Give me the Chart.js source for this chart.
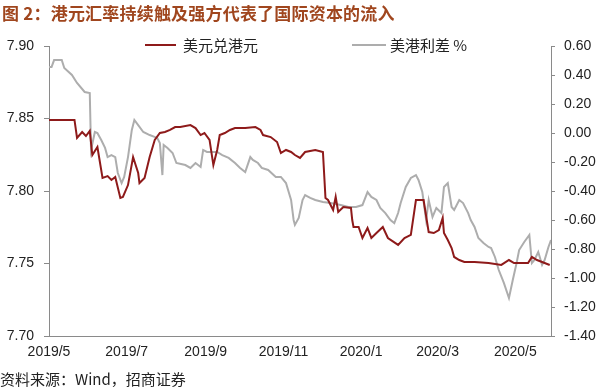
<!DOCTYPE html>
<html>
<head>
<meta charset="utf-8">
<script src="https://cdn.jsdelivr.net/npm/chart.js@4.4.1/dist/chart.umd.min.js"></script>
<style>
  html, body { margin: 0; padding: 0; background: #fff; }
  #wrap { position: relative; width: 600px; height: 387px; overflow: hidden; }
  #c { position: absolute; left: 0; top: 0; }
  #title { position: absolute; left: 2px; top: 2px; font: bold 17px "Noto Sans CJK SC", sans-serif; line-height: 22px; color: #A0461E; white-space: nowrap; letter-spacing: 0.2px; }
  #source { position: absolute; left: 0px; top: 370px; font: 15px "Noto Sans CJK SC", sans-serif; line-height: 17px; color: #222; white-space: nowrap; }
  .lg { position: absolute; top: 36px; font: 15px "Noto Sans CJK SC", sans-serif; line-height: 18px; color: #222; white-space: nowrap; }
  .lgline { position: absolute; height: 2px; top: 44px; }
</style>
</head>
<body>
<div id="wrap">
  <canvas id="c" width="600" height="387"></canvas>
  <div id="title">图 2：港元汇率持续触及强方代表了国际资本的流入</div>
  <div id="source">资料来源：Wind，招商证券</div>
</div>
<script>
// ---- data ----
const seriesNames = ['美元兑港元', '美港利差 %'];
const xTickLabels = ['2019/5', '2019/7', '2019/9', '2019/11', '2020/1', '2020/3', '2020/5'];
const leftTicks = [7.70, 7.75, 7.80, 7.85, 7.90];
const rightTicks = [-1.40, -1.20, -1.00, -0.80, -0.60, -0.40, -0.20, 0.00, 0.20, 0.40, 0.60];

const hkdDates = ['2019-05-01','2019-05-21','2019-05-23','2019-05-27','2019-05-30','2019-06-02','2019-06-04','2019-06-08','2019-06-12','2019-06-16','2019-06-19','2019-06-22','2019-06-26','2019-06-28','2019-07-02','2019-07-06','2019-07-10','2019-07-11','2019-07-15','2019-07-19','2019-07-23','2019-07-27','2019-07-31','2019-08-04','2019-08-08','2019-08-12','2019-08-20','2019-08-24','2019-08-28','2019-08-31','2019-09-04','2019-09-07','2019-09-10','2019-09-12','2019-09-16','2019-09-20','2019-09-24','2019-10-02','2019-10-10','2019-10-14','2019-10-16','2019-10-22','2019-10-27','2019-10-30','2019-11-03','2019-11-07','2019-11-10','2019-11-14','2019-11-18','2019-11-26','2019-12-02','2019-12-04','2019-12-06','2019-12-10','2019-12-12','2019-12-14','2019-12-18','2019-12-24','2019-12-25','2019-12-26','2019-12-30','2020-01-02','2020-01-06','2020-01-09','2020-01-13','2020-01-18','2020-01-22','2020-01-30','2020-02-04','2020-02-09','2020-02-13','2020-02-19','2020-02-23','2020-02-27','2020-03-02','2020-03-05','2020-03-06','2020-03-09','2020-03-12','2020-03-14','2020-03-18','2020-03-22','2020-03-30','2020-04-10','2020-04-20','2020-04-26','2020-04-30','2020-05-11','2020-05-14','2020-05-18','2020-05-22','2020-05-28'];
const hkdValues = [7.849,7.849,7.8366,7.8407,7.8379,7.8414,7.8248,7.8303,7.8090,7.8103,7.8076,7.8097,7.7952,7.7959,7.8041,7.8234,7.8124,7.8055,7.8090,7.8234,7.8352,7.8400,7.8407,7.8421,7.8441,7.8441,7.8455,7.8434,7.8386,7.8400,7.8352,7.8179,7.8283,7.8386,7.8400,7.8421,7.8434,7.8434,7.8441,7.8421,7.8386,7.8372,7.8338,7.8262,7.8283,7.8269,7.8248,7.8228,7.8269,7.8283,7.8269,7.7952,7.7938,7.7869,7.7959,7.7855,7.7890,7.7883,7.7800,7.7752,7.7752,7.7676,7.7745,7.7676,7.7710,7.7752,7.7676,7.7628,7.7676,7.7697,7.7938,7.7938,7.7717,7.7710,7.7731,7.7814,7.7710,7.7662,7.7607,7.7545,7.7524,7.7510,7.7510,7.7503,7.7490,7.7524,7.7503,7.7503,7.7545,7.7524,7.7510,7.7490];

const spreadDates = ['2019-05-01','2019-05-03','2019-05-05','2019-05-11','2019-05-13','2019-05-19','2019-05-23','2019-05-29','2019-06-02','2019-06-03','2019-06-06','2019-06-08','2019-06-11','2019-06-14','2019-06-16','2019-06-19','2019-06-22','2019-06-24','2019-06-27','2019-06-29','2019-07-02','2019-07-05','2019-07-07','2019-07-10','2019-07-14','2019-07-19','2019-07-25','2019-07-27','2019-07-29','2019-07-30','2019-08-02','2019-08-06','2019-08-09','2019-08-16','2019-08-20','2019-08-24','2019-08-28','2019-08-30','2019-09-02','2019-09-10','2019-09-14','2019-09-19','2019-09-24','2019-09-28','2019-10-02','2019-10-06','2019-10-08','2019-10-12','2019-10-15','2019-10-20','2019-10-26','2019-10-30','2019-11-03','2019-11-07','2019-11-09','2019-11-10','2019-11-13','2019-11-16','2019-11-18','2019-11-22','2019-11-26','2019-12-02','2019-12-08','2019-12-16','2019-12-22','2019-12-28','2020-01-02','2020-01-06','2020-01-09','2020-01-13','2020-01-16','2020-01-20','2020-01-24','2020-01-27','2020-01-30','2020-02-01','2020-02-05','2020-02-09','2020-02-13','2020-02-15','2020-02-18','2020-02-21','2020-02-23','2020-02-26','2020-02-29','2020-03-04','2020-03-06','2020-03-09','2020-03-12','2020-03-14','2020-03-18','2020-03-21','2020-03-25','2020-03-27','2020-03-30','2020-04-02','2020-04-06','2020-04-10','2020-04-12','2020-04-15','2020-04-18','2020-04-22','2020-04-26','2020-04-29','2020-05-02','2020-05-04','2020-05-08','2020-05-12','2020-05-14','2020-05-16','2020-05-19','2020-05-22','2020-05-24','2020-05-27','2020-05-29'];
const spreadValues = [0.455,0.455,0.503,0.503,0.448,0.400,0.345,0.283,0.276,-0.117,0.007,0.000,-0.048,-0.103,-0.166,-0.152,-0.166,-0.276,-0.345,-0.303,-0.166,0.021,0.090,0.055,0.007,-0.014,-0.034,-0.069,-0.290,-0.083,-0.103,-0.138,-0.207,-0.221,-0.241,-0.207,-0.234,-0.117,-0.131,-0.131,-0.152,-0.172,-0.207,-0.241,-0.269,-0.166,-0.186,-0.207,-0.241,-0.255,-0.303,-0.303,-0.345,-0.462,-0.600,-0.634,-0.586,-0.462,-0.428,-0.448,-0.462,-0.476,-0.483,-0.497,-0.510,-0.510,-0.497,-0.407,-0.441,-0.462,-0.517,-0.552,-0.600,-0.621,-0.552,-0.483,-0.372,-0.310,-0.290,-0.324,-0.407,-0.600,-0.462,-0.579,-0.517,-0.552,-0.372,-0.345,-0.510,-0.531,-0.462,-0.483,-0.552,-0.600,-0.648,-0.724,-0.759,-0.786,-0.793,-0.855,-0.945,-1.034,-1.138,-1.014,-0.897,-0.807,-0.752,-0.703,-0.897,-0.876,-0.821,-0.910,-0.876,-0.786,-0.738];

// ---- helpers ----
const START = Date.UTC(2019, 4, 1);
function dayOf(s) {
  const p = s.split(/[-\/]/).map(Number);
  return Math.round((Date.UTC(p[0], p[1] - 1, p[2] || 1) - START) / 86400000);
}
const xTickValues = xTickLabels.map(dayOf);
const xMax = Math.max(dayOf(hkdDates[hkdDates.length - 1]), dayOf(spreadDates[spreadDates.length - 1]));

const colors = ['#8E1A1A', '#ADADAD'];
const axisColor = '#8A8A8A';
const tickFont = { family: '"Liberation Sans", Arial, sans-serif', size: 14 };

const chart = new Chart(document.getElementById('c'), {
  type: 'line',
  data: {
    datasets: [
      {
        label: seriesNames[0],
        data: hkdDates.map((d, i) => ({ x: dayOf(d), y: hkdValues[i] })),
        yAxisID: 'yL',
        borderColor: colors[0],
        borderWidth: 2,
        pointRadius: 0,
        tension: 0,
        fill: false
      },
      {
        label: seriesNames[1],
        data: spreadDates.map((d, i) => ({ x: dayOf(d), y: spreadValues[i] })),
        yAxisID: 'yR',
        borderColor: colors[1],
        borderWidth: 2,
        pointRadius: 0,
        tension: 0,
        fill: false
      }
    ]
  },
  options: {
    responsive: false,
    animation: false,
    layout: { padding: { top: 46, left: 0, right: 0, bottom: 0 } },
    plugins: { legend: { display: false }, tooltip: { enabled: false }, title: { display: false } },
    scales: {
      x: {
        type: 'linear',
        min: 0,
        max: xMax,
        afterBuildTicks: (s) => { s.ticks = xTickValues.map(v => ({ value: v })); },
        afterFit: (s) => { s.height = 51; },
        ticks: {
          autoSkip: false, maxRotation: 0, minRotation: 0, padding: 8,
          color: '#222', font: tickFont,
          callback: (v) => { const i = xTickValues.indexOf(v); return i >= 0 ? xTickLabels[i] : ''; }
        },
        grid: { drawOnChartArea: false, drawTicks: false },
        border: { display: true, color: axisColor, width: 1 }
      },
      yL: {
        type: 'linear',
        position: 'left',
        min: leftTicks[0],
        max: leftTicks[leftTicks.length - 1],
        afterBuildTicks: (s) => { s.ticks = leftTicks.map(v => ({ value: v })); },
        afterFit: (s) => { s.width = 49; },
        ticks: { color: '#222', font: tickFont, padding: 10, callback: (v) => Number(v).toFixed(2) },
        grid: { drawOnChartArea: false, drawTicks: true, tickLength: 5, color: axisColor },
        border: { display: true, color: axisColor, width: 1 }
      },
      yR: {
        type: 'linear',
        position: 'right',
        min: rightTicks[0],
        max: rightTicks[rightTicks.length - 1],
        afterBuildTicks: (s) => { s.ticks = rightTicks.map(v => ({ value: v })); },
        afterFit: (s) => { s.width = 49; },
        ticks: { color: '#222', font: tickFont, padding: 9, callback: (v) => (Math.abs(v) < 1e-9 ? 0 : Number(v)).toFixed(2) },
        grid: { drawOnChartArea: false, drawTicks: true, tickLength: 4, color: axisColor },
        border: { display: true, color: axisColor, width: 1 }
      }
    }
  }
});

// ---- legend (HTML, built from datasets) ----
const legendPos = [{ line: 145, w: 31, text: 183 }, { line: 352, w: 34, text: 390 }];
const wrap = document.getElementById('wrap');
chart.data.datasets.forEach((ds, i) => {
  const ln = document.createElement('div');
  ln.className = 'lgline';
  ln.style.left = legendPos[i].line + 'px';
  ln.style.width = legendPos[i].w + 'px';
  ln.style.background = ds.borderColor;
  wrap.appendChild(ln);
  const tx = document.createElement('div');
  tx.className = 'lg';
  tx.style.left = legendPos[i].text + 'px';
  tx.textContent = ds.label;
  wrap.appendChild(tx);
});
</script>
</body>
</html>
